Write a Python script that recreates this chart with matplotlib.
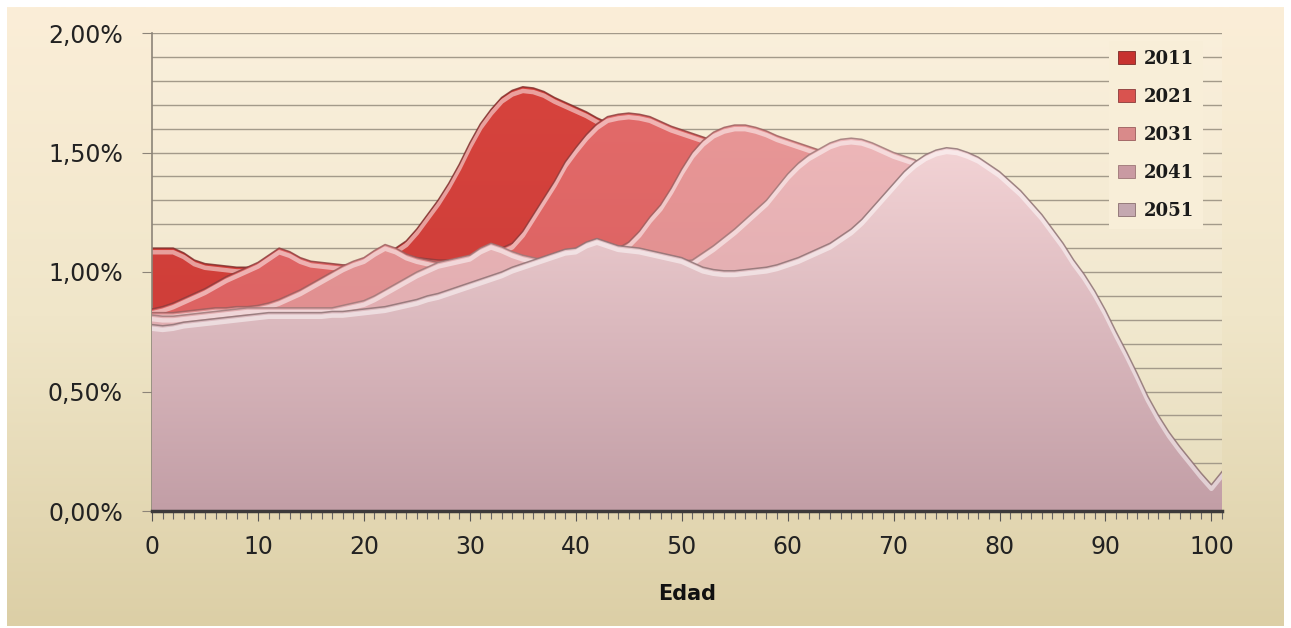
import numpy as np
import matplotlib
matplotlib.use("Agg")
import matplotlib.pyplot as plt
import matplotlib.transforms as mtransforms
from matplotlib.colors import LinearSegmentedColormap
from matplotlib.patches import Polygon, Patch

# Edades 0..101 (el último punto es 100+)
edades = np.arange(0, 102)

# % de población por edad
p2011 = [1.10, 1.10, 1.10, 1.08, 1.05, 1.035, 1.03, 1.025, 1.02, 1.02,
         1.03, 1.05, 1.08, 1.07, 1.05, 1.035, 1.03, 1.025, 1.02, 1.02,
         1.03, 1.05, 1.08, 1.10, 1.13, 1.18, 1.24, 1.30, 1.37, 1.45,
         1.54, 1.62, 1.68, 1.73, 1.76, 1.775, 1.77, 1.755, 1.73, 1.71,
         1.69, 1.67, 1.645, 1.625, 1.605, 1.59, 1.57, 1.55, 1.53, 1.51,
         1.49, 1.46, 1.43, 1.40, 1.37, 1.34, 1.31, 1.28, 1.25, 1.22,
         1.19, 1.16, 1.13, 1.10, 1.07, 1.04, 1.01, 0.98, 0.95, 0.92,
         0.89, 0.86, 0.83, 0.80, 0.77, 0.74, 0.71, 0.68, 0.64, 0.60,
         0.56, 0.52, 0.48, 0.44, 0.40, 0.36, 0.32, 0.28, 0.24, 0.20,
         0.17, 0.14, 0.11, 0.085, 0.065, 0.05, 0.035, 0.025, 0.018, 0.012,
         0.008, 0.012]
p2021 = [0.845, 0.855, 0.87, 0.89, 0.91, 0.93, 0.955, 0.98, 1.00, 1.02,
         1.04, 1.07, 1.10, 1.085, 1.06, 1.045, 1.04, 1.035, 1.03, 1.03,
         1.04, 1.06, 1.09, 1.08, 1.07, 1.06, 1.055, 1.05, 1.05, 1.05,
         1.055, 1.06, 1.08, 1.10, 1.12, 1.17, 1.24, 1.31, 1.38, 1.46,
         1.52, 1.575, 1.62, 1.65, 1.66, 1.665, 1.66, 1.65, 1.63, 1.61,
         1.595, 1.58, 1.565, 1.55, 1.53, 1.51, 1.49, 1.47, 1.44, 1.41,
         1.38, 1.35, 1.32, 1.29, 1.25, 1.21, 1.17, 1.13, 1.09, 1.05,
         1.01, 0.97, 0.93, 0.89, 0.85, 0.80, 0.75, 0.70, 0.65, 0.60,
         0.55, 0.50, 0.45, 0.40, 0.35, 0.30, 0.26, 0.22, 0.18, 0.15,
         0.12, 0.095, 0.075, 0.06, 0.045, 0.035, 0.025, 0.02, 0.015, 0.01,
         0.008, 0.012]
p2031 = [0.83, 0.83, 0.83, 0.835, 0.84, 0.845, 0.85, 0.85, 0.855, 0.855,
         0.86, 0.87, 0.885, 0.905, 0.925, 0.95, 0.975, 1.00, 1.025, 1.045,
         1.06, 1.09, 1.115, 1.10, 1.075, 1.06, 1.05, 1.04, 1.035, 1.03,
         1.035, 1.05, 1.095, 1.08, 1.06, 1.05, 1.04, 1.035, 1.035, 1.04,
         1.045, 1.05, 1.06, 1.08, 1.10, 1.125, 1.17, 1.23, 1.28, 1.35,
         1.43, 1.50, 1.55, 1.585, 1.605, 1.615, 1.615, 1.605, 1.59, 1.57,
         1.555, 1.54, 1.525, 1.51, 1.49, 1.47, 1.45, 1.42, 1.39, 1.36,
         1.33, 1.30, 1.27, 1.24, 1.20, 1.16, 1.12, 1.08, 1.03, 0.98,
         0.93, 0.87, 0.81, 0.75, 0.69, 0.62, 0.55, 0.48, 0.41, 0.35,
         0.29, 0.23, 0.18, 0.14, 0.105, 0.08, 0.06, 0.045, 0.035, 0.025,
         0.02, 0.03]
p2041 = [0.82, 0.815, 0.815, 0.82, 0.825, 0.83, 0.835, 0.84, 0.845, 0.85,
         0.85, 0.85, 0.85, 0.85, 0.85, 0.85, 0.85, 0.85, 0.86, 0.87,
         0.88, 0.90, 0.925, 0.95, 0.975, 1.00, 1.02, 1.04, 1.05, 1.06,
         1.07, 1.10, 1.12, 1.105, 1.085, 1.07, 1.06, 1.05, 1.045, 1.04,
         1.045, 1.06, 1.09, 1.08, 1.06, 1.045, 1.04, 1.035, 1.035, 1.04,
         1.045, 1.05, 1.08, 1.11, 1.145, 1.18, 1.22, 1.26, 1.30, 1.355,
         1.41, 1.455, 1.49, 1.515, 1.54, 1.555, 1.56, 1.555, 1.54, 1.52,
         1.50, 1.485, 1.47, 1.44, 1.41, 1.38, 1.34, 1.30, 1.25, 1.20,
         1.15, 1.09, 1.03, 0.97, 0.90, 0.83, 0.76, 0.68, 0.60, 0.52,
         0.44, 0.37, 0.30, 0.24, 0.19, 0.14, 0.10, 0.075, 0.055, 0.04,
         0.03, 0.05]
p2051 = [0.78, 0.775, 0.78, 0.79, 0.795, 0.80, 0.805, 0.81, 0.815, 0.82,
         0.825, 0.83, 0.83, 0.83, 0.83, 0.83, 0.83, 0.835, 0.835, 0.84,
         0.845, 0.85, 0.855, 0.865, 0.875, 0.885, 0.90, 0.91, 0.925, 0.94,
         0.955, 0.97, 0.985, 1.00, 1.02, 1.035, 1.05, 1.065, 1.08, 1.095,
         1.10, 1.125, 1.14, 1.125, 1.11, 1.105, 1.10, 1.09, 1.08, 1.07,
         1.06, 1.04, 1.02, 1.01, 1.005, 1.005, 1.01, 1.015, 1.02, 1.03,
         1.045, 1.06, 1.08, 1.10, 1.12, 1.15, 1.18, 1.22, 1.27, 1.32,
         1.37, 1.42, 1.46, 1.49, 1.51, 1.52, 1.515, 1.50, 1.48, 1.45,
         1.42, 1.38, 1.34, 1.29, 1.24, 1.18, 1.12, 1.05, 0.99, 0.92,
         0.84, 0.75, 0.665, 0.575, 0.48, 0.40, 0.33, 0.27, 0.215, 0.16,
         0.11, 0.165]

anios = ["2011", "2021", "2031", "2041", "2051"]
series = [p2011, p2021, p2031, p2041, p2051]

# colores (arriba, abajo, borde)
col_top = ["#d6433d", "#e26a69", "#e89696", "#edb6b8", "#f3d3d5"]
col_bot = ["#c93a36", "#d85c5c", "#d98a8c", "#d6a6ab", "#c29ea6"]
col_edge = ["#7a2a28", "#8a3a3a", "#9a5c5c", "#9c7676", "#8a6e70"]
col_leg = ["#c7322f", "#d9534f", "#d98a8a", "#c99aa2", "#c4a8b0"]

fig = plt.figure(figsize=(12.91, 6.28), dpi=100)
fig.patch.set_facecolor("white")

# fondo con degradado
fondo = fig.add_axes([7 / 1291, 2 / 628, 1 - 14 / 1291, 1 - 9 / 628], zorder=-10)
fondo.axis("off")
cmap_fondo = LinearSegmentedColormap.from_list("f", ["#dccfa6", "#f0e6c9", "#fbeed8"])
fondo.imshow(np.linspace(0, 1, 256)[:, None], aspect="auto", cmap=cmap_fondo,
             origin="lower", extent=[0, 1, 0, 1])

ax = fig.add_axes([152 / 1291, 1 - 511 / 628, (1222 - 152) / 1291, (511 - 33) / 628])
ax.set_facecolor((1, 1, 1, 0.12))

z = 2
for i, vals in enumerate(series):
    vals = np.array(vals)
    verts = np.vstack([[edades[0], 0], np.column_stack([edades, vals]), [edades[-1], 0]])
    poly = Polygon(verts, closed=True, facecolor="none", edgecolor="none", zorder=z)
    ax.add_patch(poly)
    cm = LinearSegmentedColormap.from_list("s%d" % i, [col_bot[i], col_top[i]])
    im = ax.imshow(np.linspace(0, 1, 256)[:, None], aspect="auto", cmap=cm, origin="lower",
                   extent=[0, 101, 0, vals.max()], zorder=z, interpolation="bilinear")
    im.set_clip_path(poly)
    # brillo blanco bajo el borde
    tr = ax.transData + mtransforms.ScaledTranslation(0, -3 / 72, fig.dpi_scale_trans)
    brillo, = ax.plot(edades, vals, color="white", lw=3.2, alpha=0.5, transform=tr,
                      zorder=z + 0.1, solid_joinstyle="round")
    brillo.set_clip_path(poly)
    ax.plot(edades, vals, color=col_edge[i], lw=1.1, alpha=0.8, zorder=z + 0.2,
            solid_joinstyle="round")
    z += 1

ax.set_xlim(0, 101)
ax.set_ylim(0, 2.0)

ax.set_yticks(np.arange(0, 2.01, 0.5))
ax.set_yticks(np.arange(0, 2.01, 0.1), minor=True)
ax.set_yticklabels([("%.2f%%" % v).replace(".", ",") for v in np.arange(0, 2.01, 0.5)])
ax.set_xticks(np.arange(0, 101, 10))
ax.set_xticks(np.arange(0, 102, 1), minor=True)
ax.grid(which="both", axis="y", color="#a39a8a", lw=1.0)
ax.set_axisbelow(True)

for s in ["top", "right"]:
    ax.spines[s].set_visible(False)
ax.spines["left"].set_color("#8c8478")
ax.spines["left"].set_linewidth(1.2)
ax.spines["bottom"].set_color("#3c3a3a")
ax.spines["bottom"].set_linewidth(2.5)
ax.spines["bottom"].set_zorder(20)

ax.tick_params(axis="y", which="major", length=7, color="#8c8478", labelsize=17,
               labelcolor="#222222", pad=14)
ax.tick_params(axis="y", which="minor", length=0)
ax.tick_params(axis="x", which="major", length=7, color="#555555", labelsize=17,
               labelcolor="#222222", pad=10)
ax.tick_params(axis="x", which="minor", length=6, color="#666666", width=0.8)

ax.set_xlabel("Edad", fontsize=15, fontweight="bold", color="#111111", labelpad=18)

handles = [Patch(facecolor=col_leg[i], edgecolor=col_edge[i], lw=0.6) for i in range(5)]
leg = fig.legend(handles, anios, loc="upper right", bbox_to_anchor=(1212 / 1291, 1 - 32 / 628),
                 frameon=True, facecolor="#f8eed8", edgecolor="none", framealpha=1,
                 fancybox=False, prop={"family": "DejaVu Serif", "weight": "bold", "size": 13},
                 handlelength=0.9, handleheight=0.7, handletextpad=0.5, labelspacing=1.1,
                 borderpad=0.5)
for t in leg.get_texts():
    t.set_color("#1a1a1a")

fig.savefig("out.png", dpi=100)
